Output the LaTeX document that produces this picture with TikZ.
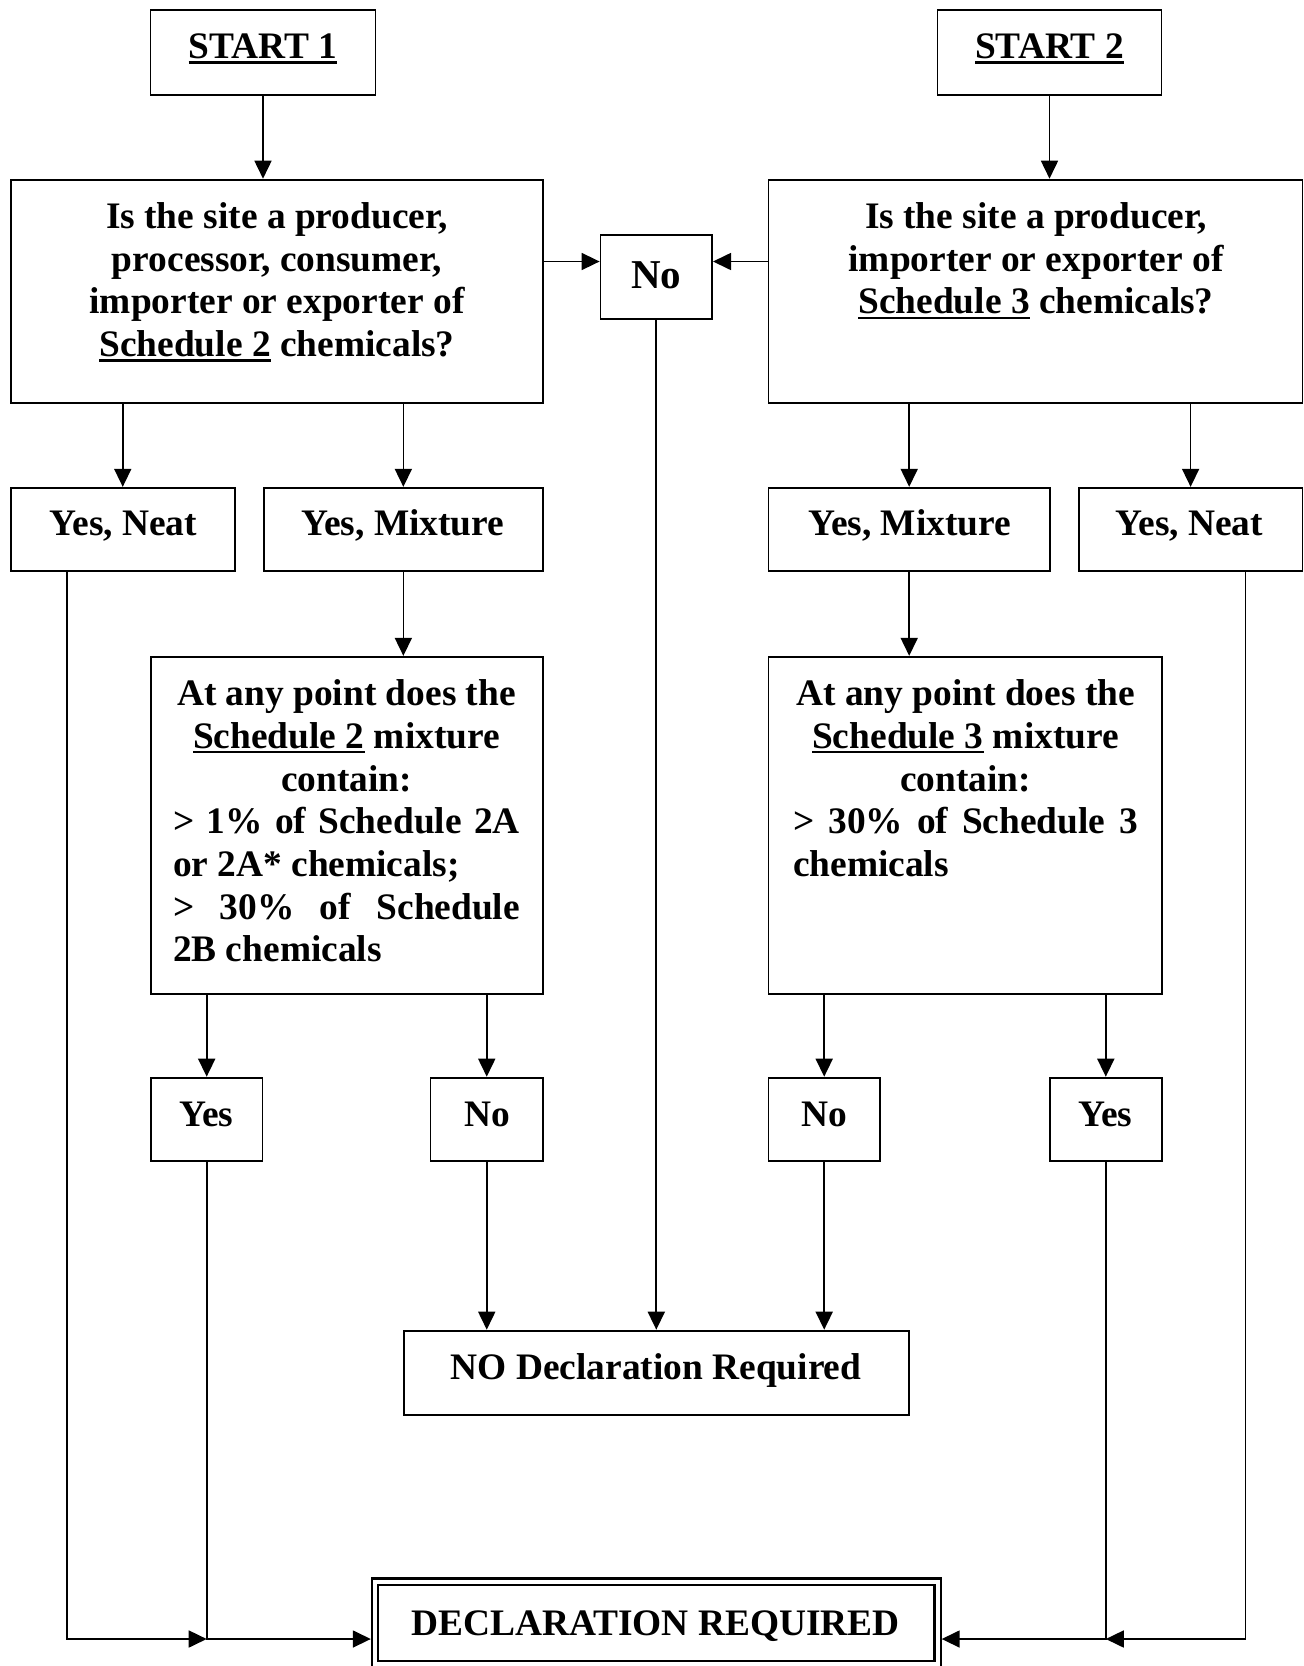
\documentclass[tikz,border=0pt]{standalone}
\usepackage{fontspec}
\setmainfont{Liberation Serif}
\usetikzlibrary{arrows.meta}
\newsavebox\ulbox
\newcommand\myul[1]{\leavevmode\sbox\ulbox{#1}\rlap{\rule[-5pt]{\wd\ulbox}{2.4pt}}\usebox\ulbox}
\begin{document}
\begin{tikzpicture}[x=1pt,y=-1pt,
  box/.style={draw, line width=1.8pt, inner sep=0pt, rectangle},
  txt/.style={inner sep=0pt, font=\bfseries\fontsize{37.4}{42.7}\selectfont, anchor=base},
  arr/.style={line width=1.7pt, -{Triangle[length=18pt,width=17pt]}}]
\useasboundingbox (0,0) rectangle (1304,1666);
% boxes
\node[box, minimum width=225, minimum height=85] (start1) at (263,52.5) {};
\node[box, minimum width=224, minimum height=85] (start2) at (1049.5,52.5) {};
\node[box, minimum width=532.5, minimum height=223.2] (q1) at (276.9,291.2) {};
\node[box, minimum width=534, minimum height=223.2] (q2) at (1035.5,291.2) {};
\node[box, minimum width=111.6, minimum height=84] (notop) at (656.3,276.9) {};
\node[box, minimum width=224.3, minimum height=83] (ynL) at (122.75,529.25) {};
\node[box, minimum width=279.5, minimum height=83] (ymL) at (403.35,529.25) {};
\node[box, minimum width=281.6, minimum height=83] (ymR) at (909.2,529.25) {};
\node[box, minimum width=223.8, minimum height=83] (ynR) at (1190.6,529.25) {};
\node[box, minimum width=392, minimum height=337] (m1) at (347,825.25) {};
\node[box, minimum width=393.2, minimum height=337] (m2) at (965,825.25) {};
\node[box, minimum width=111.6, minimum height=83] (yesL) at (206.7,1119.1) {};
\node[box, minimum width=112.7, minimum height=83] (noL) at (486.75,1119.1) {};
\node[box, minimum width=111.6, minimum height=83] (noR) at (824.2,1119.1) {};
\node[box, minimum width=111.6, minimum height=83] (yesR) at (1105.8,1119.1) {};
\node[box, minimum width=504.8, minimum height=84] (nodecl) at (656.3,1372.6) {};
\node[draw, double, double distance=4pt, line width=2.2pt, inner sep=0pt, outer sep=4.2pt,
      minimum width=562.5, minimum height=82.5] (decl) at (656.25,1622.75) {};
% texts
\node[txt] (t1) at (263,58.5) {\myul{START 1}};
\node[txt] (t2) at (1049.5,58.5) {\myul{START 2}};
\node[txt] (tq1) at (277,228.5) {\parbox[t]{525pt}{\centering Is the site a producer,\\processor, consumer,\\importer or exporter of\\\myul{Schedule 2} chemicals?}};
\node[txt] (tq2) at (1036,228.5) {\parbox[t]{525pt}{\centering Is the site a producer,\\importer or exporter of\\\myul{Schedule 3} chemicals?}};
\node[txt, font=\bfseries\fontsize{41}{46}\selectfont] (tno) at (656.3,288) {No};
\node[txt] (tynL) at (123.3,535.6) {Yes, Neat};
\node[txt] (tymL) at (402.8,535.6) {Yes, Mixture};
\node[txt] (tymR) at (909.7,535.6) {Yes, Mixture};
\node[txt] (tynR) at (1189.3,535.6) {Yes, Neat};
\node[txt] (tm1) at (346.5,705.7) {\parbox[t]{347pt}{\centering At any point does the\\\myul{Schedule 2} mixture\\contain:\par
  \hbox to\hsize{>\hfill 1\%\hfill of\hfill Schedule\hfill 2A}
  \hbox to\hsize{or 2A* chemicals;\hfil}
  \hbox to\hsize{>\hfill 30\%\hfill of\hfill Schedule}
  \hbox to\hsize{2B chemicals\hfil}}};
\node[txt] (tm2) at (965.6,705.7) {\parbox[t]{345pt}{\centering At any point does the\\\myul{Schedule 3} mixture\\contain:\par
  \hbox to\hsize{>\hfill 30\%\hfill of\hfill Schedule\hfill 3}
  \hbox to\hsize{chemicals\hfil}}};
\node[txt] (tyesL) at (206.2,1126.6) {Yes};
\node[txt] (tnoL) at (487.8,1126.6) {No};
\node[txt] (tnoR) at (824.7,1126.6) {No};
\node[txt] (tyesR) at (1105.3,1126.6) {Yes};
\node[txt] (tnodecl) at (656,1379.5) {NO Declaration Required};
\node[txt] (tdecl) at (655.5,1635.7) {DECLARATION REQUIRED};
% connectors
\coordinate (ny) at (656,261.5);
\coordinate (by) at (656,1639);
\draw[arr] (start1.south) -- (start1.south |- q1.north);
\draw[arr] (start2.south) -- (start2.south |- q2.north);
\draw[arr] (q1.east |- ny) -- (notop.west |- ny);
\draw[arr] (q2.west |- ny) -- (notop.east |- ny);
\draw[arr] (notop.south) -- (notop.south |- nodecl.north);
\draw[arr] (q1.south -| ynL.north) -- (ynL.north);
\draw[arr] (q1.south -| ymL.north) -- (ymL.north);
\draw[arr] (q2.south -| ymR.north) -- (ymR.north);
\draw[arr] (q2.south -| ynR.north) -- (ynR.north);
\draw[arr] (ymL.south) -- (ymL.south |- m1.north);
\draw[arr] (ymR.south) -- (ymR.south |- m2.north);
\draw[arr] (m1.south -| yesL.north) -- (yesL.north);
\draw[arr] (m1.south -| noL.north) -- (noL.north);
\draw[arr] (m2.south -| noR.north) -- (noR.north);
\draw[arr] (m2.south -| yesR.north) -- (yesR.north);
\draw[arr] (noL.south) -- (noL.south |- nodecl.north);
\draw[arr] (noR.south) -- (noR.south |- nodecl.north);
\draw[arr] ([xshift=-55.75pt]ynL.south) |- (yesL.south |- by);
\draw[arr] ([xshift=55pt]ynR.south) |- (yesR.south |- by);
\draw[arr] (yesL.south) |- (decl.west |- by);
\draw[arr] (yesR.south) |- (decl.east |- by);
\end{tikzpicture}
\end{document}
